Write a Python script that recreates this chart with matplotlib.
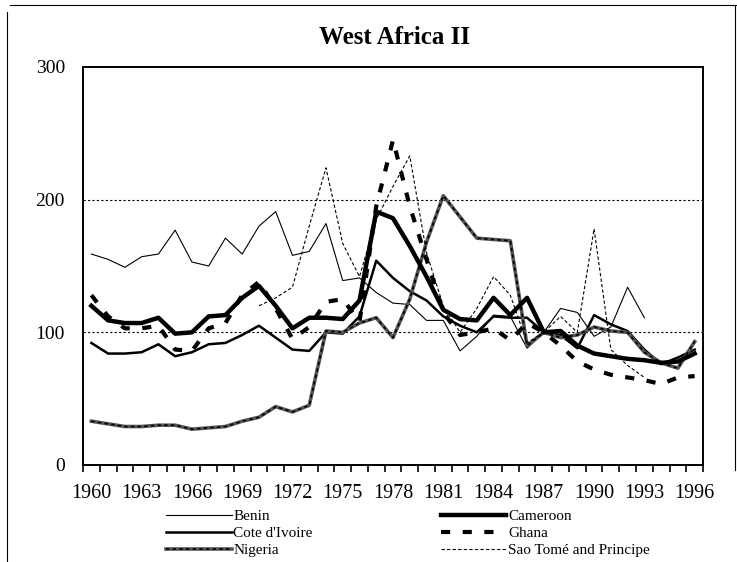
import matplotlib
matplotlib.use("Agg")
import matplotlib.pyplot as plt
import numpy as np
from matplotlib.lines import Line2D

plt.rcParams['font.family'] = ['Liberation Serif', 'DejaVu Serif']

years = list(range(1960, 1997))
nan = np.nan

benin = [159, 155, 149, 157, 159, 177, 153, 150, 171, 159, 180, 191, 158, 161, 182, 139,
         141, 130, 122, 121, 109, 109, 86, 97, 113, 112, 88, 100, 118, 115, 97, 104,
         134, 111, nan, nan, nan]
cote_divoire = [92, 84, 84, 85, 91, 82, 85, 91, 92, 98, 105, 96, 87, 86, 100, 99,
                112, 154, 141, 131, 124, 112, 105, 100, 112, 111, 111, 100, 98, 88, 113, 106,
                101, 87, 76, 81, 87]
nigeria = [33, 31, 29, 29, 30, 30, 27, 28, 29, 33, 36, 44, 40, 45, 101, 100,
           107, 111, 96, 125, 168, 203, 187, 171, 170, 169, 90, 100, 96, 98, 104, 101,
           100, 85, 77, 73, 93]
cameroon = [120, 109, 107, 107, 111, 99, 100, 112, 113, 126, 135, 120, 103, 111, 111, 110,
            124, 191, 186, 165, 142, 117, 110, 109, 126, 113, 126, 100, 101, 90, 84, 82,
            80, 79, 77, 78, 84]
ghana = [128, 112, 103, 103, 105, 87, 86, 103, 107, 128, 138, 118, 95, 104, 123, 125,
         108, 195, 245, 195, 155, 115, 98, 100, 103, 94, 107, 100, 90, 78, 72, 68,
         66, 64, 61, 66, 67]
sao_tome = [nan, nan, nan, nan, nan, nan, nan, nan, nan, nan, 120, 126, 134, 180, 224, 167,
            142, 185, 210, 233, 160, 120, 100, 118, 142, 128, 92, 100, 112, 100, 178, 87,
            75, 66, nan, nan, nan]

x = np.arange(len(years))
label_years = years[::3]

fig = plt.figure(figsize=(7.37, 5.62), dpi=100)
ax = fig.add_axes([0.1126, 0.1726, 0.8413, 0.7082])

ax.axhline(100, color='black', lw=0.8, ls=(0, (2, 2)), zorder=1)
ax.axhline(200, color='black', lw=0.8, ls=(0, (2, 2)), zorder=1)

l_benin, = ax.plot(x, benin, color='black', lw=0.8, label='Benin')
l_cote, = ax.plot(x, cote_divoire, color='black', lw=1.8, label="Cote d'Ivoire")
l_nig1, = ax.plot(x, nigeria, color='#555555', lw=2.6)
l_nig2, = ax.plot(x, nigeria, color='black', lw=1.2, ls=(0, (2, 2)))
l_cam, = ax.plot(x, cameroon, color='black', lw=3.2, label='Cameroon')
l_gha, = ax.plot(x, ghana, color='black', lw=3.0, ls=(0, (2.2, 3)), label='Ghana')
l_sao, = ax.plot(x, sao_tome, color='black', lw=0.8, ls=(0, (3, 2)),
                 label='Sao Tomé and Principe')

ax.set_xlim(-0.5, len(years) - 0.5)
ax.set_ylim(0, 300)
ax.set_yticks([0, 100, 200, 300])
ax.tick_params(axis='y', length=0, pad=13, labelsize=14)
ax.set_xticks([years.index(y) for y in label_years])
ax.set_xticklabels([str(y) for y in label_years])
ax.set_xticks(np.arange(-0.5, len(years)), minor=True)
ax.tick_params(axis='x', which='major', length=0, pad=14, labelsize=14.5)
ax.tick_params(axis='x', which='minor', length=5, width=1.2, direction='out')
for s in ax.spines.values():
    s.set_linewidth(1.4)

fig.text(0.536, 1 - 44 / 562, 'West Africa II', ha='center', va='baseline',
         fontsize=18, fontweight='bold')

handles = [l_benin, l_cote, (l_nig1, l_nig2), l_cam, l_gha, l_sao]
labels = ['Benin', "Cote d'Ivoire", 'Nigeria', 'Cameroon', 'Ghana', 'Sao Tomé and Principe']
fig.legend(handles, labels, ncol=2, loc='upper left', bbox_to_anchor=(0.225, 0.093),
           frameon=False, fontsize=11, handlelength=4.3, handletextpad=0.1,
           labelspacing=0.2, columnspacing=8.4, borderpad=0, borderaxespad=0)

# scanned page border
fig.add_artist(Line2D([7 / 737, 7 / 737], [0, 1 - 12 / 562], color='black', lw=0.8))
fig.add_artist(Line2D([10 / 737, 1], [1 - 5 / 562, 1 - 5 / 562], color='black', lw=0.8))
fig.add_artist(Line2D([735 / 737, 735 / 737], [1 - 5 / 562, 1 - 470 / 562], color='black', lw=0.8))

fig.savefig('out.png', dpi=100)
